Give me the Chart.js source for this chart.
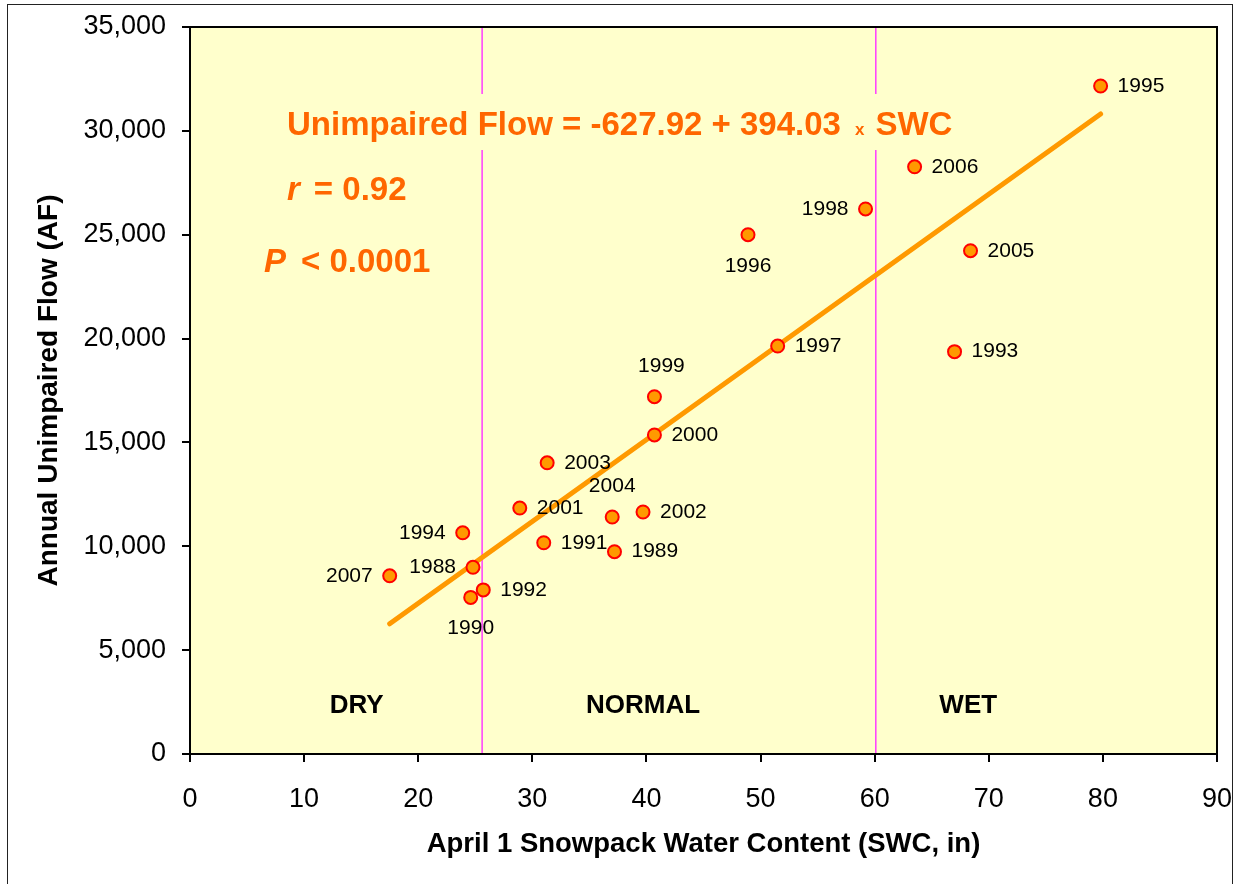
<!DOCTYPE html>
<html>
<head>
<meta charset="utf-8">
<title>Annual Unimpaired Flow vs April 1 Snowpack</title>
<script src="https://cdn.jsdelivr.net/npm/chart.js@4/dist/chart.umd.min.js"></script>
<style>
    html, body { margin: 0; padding: 0; background: #ffffff; }
    #flowChart { display: block; }
</style>
</head>
<body>
<canvas id="flowChart" width="1236" height="884"></canvas>
<script>
// Water years with April 1 snowpack water content (in) and annual unimpaired flow (AF)
const years = [1988, 1989, 1990, 1991, 1992, 1993, 1994, 1995, 1996, 1997,
               1998, 1999, 2000, 2001, 2002, 2003, 2004, 2005, 2006, 2007];
const swc = [24.8, 37.2, 24.6, 31.0, 25.7, 67.0, 23.9, 79.8, 48.9, 51.5,
             59.2, 40.7, 40.7, 28.9, 39.7, 31.3, 37.0, 68.4, 63.5, 17.5];
const flow = [8990, 9740, 7540, 10170, 7900, 19370, 10650, 32160, 25000, 19640,
              26240, 17200, 15360, 11840, 11650, 14020, 11410, 24230, 28270, 8580];

// Least-squares fit reported on the chart
const intercept = -627.92;
const slope = 394.03;
const rText = '0.92';
const pText = '0.0001';

// SWC boundaries between dry / normal / wet years
const zoneBreaks = [25.6, 60.1];
const zoneNames = ['DRY', 'NORMAL', 'WET'];

const xTicksMax = 90;
const yTicksMax = 35000;

const FONT = 'Arial, "Liberation Sans", Helvetica, sans-serif';

class FlowChart {
    constructor() {
        this.chart = null;
        this.init();
    }

    init() {
        const ctx = document.getElementById('flowChart');
        const points = years.map((yr, i) => ({ x: swc[i], y: flow[i], year: yr }));

        const xMin = Math.min(...swc);
        const xMax = Math.max(...swc);
        const fitLine = [
            { x: xMin, y: intercept + slope * xMin },
            { x: xMax, y: intercept + slope * xMax }
        ];

        const breakSets = zoneBreaks.map(b => ({
            type: 'line',
            data: [{ x: b, y: 0 }, { x: b, y: yTicksMax }],
            borderColor: '#ff3cff',
            borderWidth: 1.5,
            pointRadius: 0,
            order: 3
        }));

        this.chart = new Chart(ctx, {
            type: 'scatter',
            data: {
                datasets: [
                    {
                        label: 'Water year',
                        data: points,
                        pointRadius: 6.5,
                        pointHoverRadius: 6.5,
                        pointBackgroundColor: '#ff9900',
                        pointBorderColor: '#ff0000',
                        pointBorderWidth: 2,
                        order: 0
                    },
                    {
                        type: 'line',
                        label: 'Fit',
                        data: fitLine,
                        borderColor: '#ff9900',
                        borderWidth: 5,
                        borderCapStyle: 'round',
                        pointRadius: 0,
                        order: 1
                    },
                    ...breakSets
                ]
            },
            options: {
                responsive: false,
                animation: false,
                events: [],
                layout: { padding: { top: 27, right: 19, left: 0, bottom: 0 } },
                plugins: {
                    legend: { display: false },
                    tooltip: { enabled: false }
                },
                scales: {
                    x: {
                        type: 'linear',
                        min: 0,
                        max: xTicksMax,
                        ticks: {
                            stepSize: 10,
                            color: '#000',
                            padding: 21,
                            font: { family: FONT, size: 27 }
                        },
                        grid: {
                            drawOnChartArea: false,
                            drawTicks: true,
                            tickLength: 8,
                            color: '#000',
                            lineWidth: 2
                        },
                        border: { display: true, color: '#000', width: 2 },
                        title: {
                            display: true,
                            text: 'April 1 Snowpack Water Content (SWC, in)',
                            color: '#000',
                            font: { family: FONT, size: 27.5, weight: 'bold' },
                            padding: { top: 0, bottom: 23 }
                        },
                        // keep the plot edges where the layout padding puts them
                        afterFit: scale => {
                            scale.height = 130;
                            scale.paddingLeft = 0;
                            scale.paddingRight = 0;
                        }
                    },
                    y: {
                        type: 'linear',
                        min: 0,
                        max: yTicksMax,
                        ticks: {
                            stepSize: 5000,
                            color: '#000',
                            padding: 16,
                            font: { family: FONT, size: 27 },
                            callback: v => v.toLocaleString('en-US')
                        },
                        grid: {
                            drawOnChartArea: false,
                            drawTicks: true,
                            tickLength: 8,
                            color: '#000',
                            lineWidth: 2
                        },
                        border: { display: true, color: '#000', width: 2 },
                        title: {
                            display: true,
                            text: 'Annual Unimpaired Flow (AF)',
                            color: '#000',
                            font: { family: FONT, size: 28, weight: 'bold' },
                            padding: { top: 32, bottom: 0 }
                        },
                        afterFit: scale => {
                            scale.width = 190;
                            scale.paddingTop = 0;
                            scale.paddingBottom = 0;
                        }
                    }
                }
            },
            plugins: [this.plotBackground(), this.annotations()]
        });
    }

    // pale yellow plot area, plus outer frame and plot border on top
    plotBackground() {
        return {
            id: 'plotBackground',
            beforeDraw(chart) {
                const { ctx, chartArea: a } = chart;
                ctx.save();
                ctx.fillStyle = '#ffffcc';
                ctx.fillRect(a.left, a.top, a.right - a.left, a.bottom - a.top);
                ctx.restore();
            },
            afterDraw(chart) {
                const { ctx, chartArea: a } = chart;
                ctx.save();
                ctx.strokeStyle = '#000';
                ctx.lineWidth = 2;
                ctx.strokeRect(a.left, a.top, a.right - a.left, a.bottom - a.top);
                ctx.lineWidth = 1;
                ctx.strokeStyle = '#222';
                ctx.strokeRect(7.5, 4.5, 1225, 1000);
                ctx.restore();
            }
        };
    }

    annotations() {
        const labelSide = {
            1988: 'left', 1994: 'left', 1998: 'left', 2007: 'left',
            1990: 'below', 1996: 'below',
            1999: 'above', 2004: 'above'
        };
        const zoneSpots = [14.6, 39.7, 68.2];

        return {
            id: 'annotations',
            afterDatasetsDraw(chart) {
                const { ctx, scales: { x, y } } = chart;
                ctx.save();

                // year labels next to each point
                ctx.fillStyle = '#000';
                ctx.font = `21px ${FONT}`;
                ctx.textBaseline = 'middle';
                years.forEach((yr, i) => {
                    const px = x.getPixelForValue(swc[i]);
                    const py = y.getPixelForValue(flow[i]);
                    const side = labelSide[yr] || 'right';
                    if (side === 'left') {
                        ctx.textAlign = 'right';
                        ctx.fillText(String(yr), px - 17, py);
                    } else if (side === 'below') {
                        ctx.textAlign = 'center';
                        ctx.fillText(String(yr), px, py + 31);
                    } else if (side === 'above') {
                        ctx.textAlign = 'center';
                        ctx.fillText(String(yr), px + (yr === 1999 ? 7 : 0), py - 31);
                    } else {
                        ctx.textAlign = 'left';
                        ctx.fillText(String(yr), px + 17, py);
                    }
                });

                // DRY / NORMAL / WET
                ctx.font = `bold 26px ${FONT}`;
                ctx.textAlign = 'center';
                zoneNames.forEach((name, i) => {
                    ctx.fillText(name, x.getPixelForValue(zoneSpots[i]), y.getPixelForValue(2310));
                });

                // regression equation on a plot-coloured box
                ctx.fillStyle = '#ffffcc';
                ctx.fillRect(280, 94, 680, 56);

                const orange = '#ff6600';
                ctx.fillStyle = orange;
                ctx.textAlign = 'left';
                ctx.textBaseline = 'alphabetic';
                const eq = `Unimpaired Flow = ${intercept} + ${slope}`;
                let cx = 287;
                ctx.font = `bold 33px ${FONT}`;
                ctx.fillText(eq, cx, 135);
                cx += ctx.measureText(eq).width + 14;
                ctx.font = `bold 17px ${FONT}`;
                ctx.fillText('x', cx, 135);
                cx += ctx.measureText('x').width + 11;
                ctx.font = `bold 33px ${FONT}`;
                ctx.fillText('SWC', cx, 135);

                // r and P
                ctx.font = `italic bold 33px ${FONT}`;
                ctx.fillText('r', 287, 200);
                const rw = ctx.measureText('r').width;
                ctx.font = `bold 33px ${FONT}`;
                ctx.fillText(`= ${rText}`, 287 + rw + 14, 200);

                ctx.font = `italic bold 33px ${FONT}`;
                ctx.fillText('P', 264, 272);
                const pw = ctx.measureText('P').width;
                ctx.font = `bold 33px ${FONT}`;
                ctx.fillText(`< ${pText}`, 264 + pw + 15, 272);

                ctx.restore();
            }
        };
    }
}

document.addEventListener('DOMContentLoaded', () => {
    new FlowChart();
});
</script>
</body>
</html>
